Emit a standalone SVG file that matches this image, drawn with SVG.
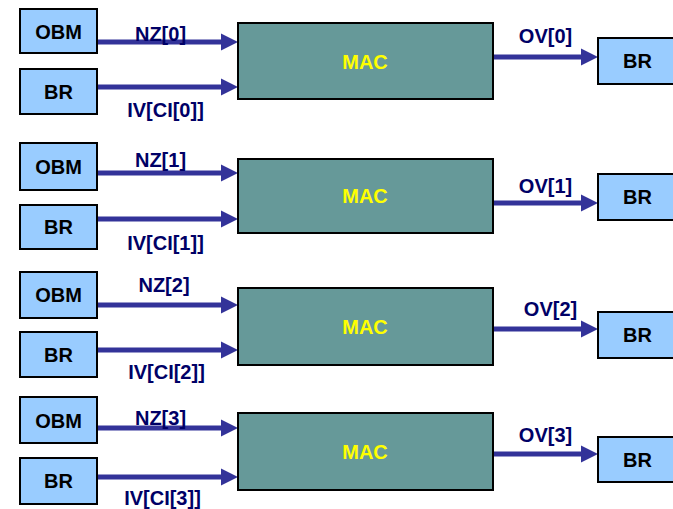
<svg xmlns="http://www.w3.org/2000/svg" width="673" height="509" viewBox="0 0 673 509">
<style>
.box{fill:#99CCFF;stroke:#000;stroke-width:2}
.mac{fill:#669999;stroke:#000;stroke-width:2}
.bt{font-family:"Liberation Sans",Arial,sans-serif;font-weight:bold;font-size:20px;fill:#000;text-anchor:middle}
.mt{font-family:"Liberation Sans",Arial,sans-serif;font-weight:bold;font-size:20px;fill:#FFFF00;text-anchor:middle}
.lb{font-family:"Liberation Sans",Arial,sans-serif;font-weight:bold;font-size:20px;fill:#000066;text-anchor:middle}
.ar{stroke:#333399;stroke-width:5;fill:none;marker-end:url(#ah)}
</style>
<defs>
<marker id="ah" markerUnits="userSpaceOnUse" markerWidth="17" markerHeight="18" viewBox="0 0 17 18" refX="7" refY="9" orient="auto">
<path d="M0,0.5 L17,9 L0,17.5 z" fill="#333399"/>
</marker>
</defs>
<g id="connectors">
<line class="ar" x1="97" y1="42" x2="228" y2="42"/>
<line class="ar" x1="97" y1="87" x2="228" y2="87"/>
<line class="ar" x1="493" y1="57" x2="588" y2="57"/>
<line class="ar" x1="97" y1="173" x2="228" y2="173"/>
<line class="ar" x1="97" y1="219" x2="228" y2="219"/>
<line class="ar" x1="493" y1="203" x2="588" y2="203"/>
<line class="ar" x1="97" y1="305" x2="228" y2="305"/>
<line class="ar" x1="97" y1="350" x2="228" y2="350"/>
<line class="ar" x1="493" y1="329" x2="588" y2="329"/>
<line class="ar" x1="97" y1="428" x2="228" y2="428"/>
<line class="ar" x1="97" y1="477" x2="228" y2="477"/>
<line class="ar" x1="493" y1="454" x2="588" y2="454"/>
<text class="lb" x="160.5" y="41">NZ[0]</text>
<text class="lb" x="165.5" y="117">IV[CI[0]]</text>
<text class="lb" x="545.5" y="43">OV[0]</text>
<text class="lb" x="160.5" y="167">NZ[1]</text>
<text class="lb" x="165.5" y="250">IV[CI[1]]</text>
<text class="lb" x="545.5" y="193">OV[1]</text>
<text class="lb" x="164" y="292">NZ[2]</text>
<text class="lb" x="166.5" y="379">IV[CI[2]]</text>
<text class="lb" x="550.5" y="316">OV[2]</text>
<text class="lb" x="160.5" y="425">NZ[3]</text>
<text class="lb" x="162.5" y="505">IV[CI[3]]</text>
<text class="lb" x="545.5" y="442">OV[3]</text>
</g>
<g id="obm0"><rect class="box" x="20" y="9" width="77" height="44"/><text class="bt" x="58.5" y="39">OBM</text></g>
<g id="br0"><rect class="box" x="20" y="69" width="77" height="45"/><text class="bt" x="58.5" y="99">BR</text></g>
<g id="mac0"><rect class="mac" x="238" y="23" width="255" height="76"/><text class="mt" x="365" y="69">MAC</text></g>
<g id="bro0"><rect class="box" x="598" y="38" width="80" height="46"/><text class="bt" x="637.5" y="68">BR</text></g>

<g id="obm1"><rect class="box" x="20" y="143" width="77" height="47"/><text class="bt" x="58.5" y="174">OBM</text></g>
<g id="br1"><rect class="box" x="20" y="205" width="77" height="44"/><text class="bt" x="58.5" y="234">BR</text></g>
<g id="mac1"><rect class="mac" x="238" y="159" width="255" height="74"/><text class="mt" x="365" y="203">MAC</text></g>
<g id="bro1"><rect class="box" x="598" y="174" width="80" height="46"/><text class="bt" x="637.5" y="204">BR</text></g>

<g id="obm2"><rect class="box" x="20" y="272" width="77" height="46"/><text class="bt" x="58.5" y="302">OBM</text></g>
<g id="br2"><rect class="box" x="20" y="332" width="77" height="45"/><text class="bt" x="58.5" y="362">BR</text></g>
<g id="mac2"><rect class="mac" x="238" y="288" width="255" height="77"/><text class="mt" x="365" y="334">MAC</text></g>
<g id="bro2"><rect class="box" x="598" y="312" width="80" height="46"/><text class="bt" x="637.5" y="342">BR</text></g>

<g id="obm3"><rect class="box" x="20" y="397" width="77" height="46"/><text class="bt" x="58.5" y="428">OBM</text></g>
<g id="br3"><rect class="box" x="20" y="458" width="77" height="46"/><text class="bt" x="58.5" y="488">BR</text></g>
<g id="mac3"><rect class="mac" x="238" y="413" width="255" height="77"/><text class="mt" x="365" y="459">MAC</text></g>
<g id="bro3"><rect class="box" x="598" y="437" width="80" height="45"/><text class="bt" x="637.5" y="467">BR</text></g>
</svg>
